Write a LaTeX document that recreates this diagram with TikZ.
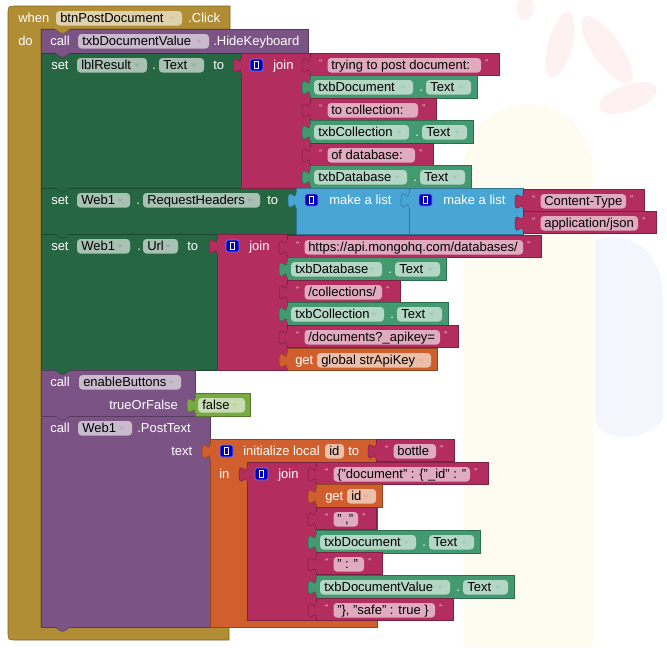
\documentclass[tikz,border=0pt]{standalone}
\usepackage{fontspec}
\setmainfont{Liberation Sans}
\definecolor{gold}{HTML}{B18E35}
\definecolor{purp}{HTML}{7C5385}
\definecolor{dkg}{HTML}{266643}
\definecolor{getg}{HTML}{439970}
\definecolor{pink}{HTML}{B32D5E}
\definecolor{lblue}{HTML}{49A6D4}
\definecolor{orng}{HTML}{D05F2D}
\definecolor{logg}{HTML}{77AB41}
\definecolor{mutb}{HTML}{0000C0}
\definecolor{mute}{HTML}{8080F0}
\definecolor{wmy}{RGB}{254,252,241}
\definecolor{wmp}{RGB}{253,241,241}
\definecolor{wmb}{RGB}{243,246,253}
\newcounter{nn}
\tikzset{
  lbl/.style={text=white, inner sep=0pt, anchor=base west},
  ftx/.style={text=black, inner sep=0pt, anchor=base west},
  qt/.style={text=white, inner sep=0pt, anchor=base west, font=\fontsize{6}{6}\selectfont},
  fieldbg/.style={white, fill opacity=0.6, rounded corners=2.6pt}
}
% value block with left puzzle tab: color, x1, y1, x2, y2
\newcommand\vb[5]{%
 \fill[#1, draw=#1!70!black, line width=0.4pt] (#2,#3) rectangle (#4,#5);
 \fill[#1, draw=#1!70!black, line width=0.4pt] (#2,#3+5) .. controls (#2,#3+15) and (#2-8,#3-3) .. (#2-8,#3+12.5) .. controls (#2-8,#3+28) and (#2,#3+10) .. (#2,#3+20);
 \fill[#1] (#2-0.4,#3+5.4) rectangle (#2+0.8,#3+19.6);}
% statement block
\newcommand\stb[5]{\fill[#1, draw=#1!70!black, line width=0.4pt] (#2,#3) rectangle (#4,#5);}
% statement notch bump: color, x, y
\newcommand\bump[3]{%
 \fill[#1] (#2+14,#3-0.6) -- (#2+14,#3) -- (#2+20,#3+4) -- (#2+23,#3+4) -- (#2+29,#3) -- (#2+29,#3-0.6) -- cycle;
 \draw[#1!70!black, line width=0.4pt] (#2+14,#3) -- (#2+20,#3+4) -- (#2+23,#3+4) -- (#2+29,#3);}
% white label: x, row top, text
\newcommand\lb[3]{\stepcounter{nn}\node[lbl] (l\arabic{nn}) at (#1,#2+16) {#3};}
% dropdown field: color, x1, x2, row top, text
\newcommand\fd[5]{%
 \fill[fieldbg] (#2,#4+5) rectangle (#3,#4+19.5);
 \stepcounter{nn}\node[ftx] (f\arabic{nn}) at (#2+4,#4+16) {#5};
 \fill[#1!50!white] (#3-13,#4+10.5) -- (#3-7,#4+10.5) -- (#3-10,#4+14) -- cycle;}
% plain text field: x1, x2, row top, text
\newcommand\tf[4]{%
 \fill[fieldbg] (#1,#3+5) rectangle (#2,#3+19.5);
 \stepcounter{nn}\node[ftx] (t\arabic{nn}) at (#1+4,#3+16) {#4};}
% text literal: x1, top, field x2, text
\newcommand\lit[4]{%
 \vb{pink}{#1}{#2}{#3+18}{#2+22.5}
 \stepcounter{nn}\node[qt] (q\arabic{nn}) at (#1+9,#2+12.5) {“};
 \fill[fieldbg] (#1+17.5,#2+5) rectangle (#3,#2+19.5);
 \stepcounter{nn}\node[ftx] (t\arabic{nn}) at (#1+21,#2+16) {#4};
 \stepcounter{nn}\node[qt] (q\arabic{nn}) at (#3+4,#2+12.5) {”};}
% component getter: x1, top, name, field1 x2
\newcommand\gtr[4]{%
 \vb{getg}{#1}{#2}{#4+64}{#2+23}
 \fd{getg}{#1+4}{#4}{#2}{#3}
 \lb{#4+6}{#2}{.}
 \fd{getg}{#4+13}{#4+58}{#2}{Text}}
% mutator icon: x, row top
\newcommand\mut[2]{%
 \fill[mutb, draw=mute, line width=0.5pt, rounded corners=1.5pt] (#1,#2+6) rectangle (#1+13,#2+18);
 \draw[white, line width=0.5pt] (#1+4.5,#2+8.5) rectangle (#1+8.5,#2+15.5);}

\begin{document}
\begin{tikzpicture}[x=0.75pt,y=-0.75pt,font=\fontsize{9.75}{11.7}\selectfont]
\useasboundingbox (0,0) rectangle (667,647);
\fill[white] (0,0) rectangle (667,647);
% faint watermark
\fill[wmy] (463,647) -- (463,175) .. controls (463,80) and (593,80) .. (593,175) -- (593,647) -- cycle;
\fill[wmp, rotate around={-15:(560,45)}] (560,45) ellipse (12 and 34);
\fill[wmp, rotate around={35:(607,50)}] (607,50) ellipse (14 and 40);
\fill[wmp, rotate around={20:(628,98)}] (628,98) ellipse (30 and 13);
\fill[wmp] (525,8) ellipse (9 and 12);
\fill[wmb] (595,240) .. controls (640,228) and (663,260) .. (663,300) -- (663,420) .. controls (640,445) and (600,440) .. (595,420) -- cycle;

% event block
\fill[gold, draw=gold!70!black, line width=0.4pt] (16,6) -- (230,6) -- (230,29) -- (41,29) -- (41,627) -- (229,627) -- (229,640) -- (16,640) .. controls (8,640) .. (8,632) -- (8,14) .. controls (8,6) .. (16,6) -- cycle;

% statement blocks
\stb{purp}{41}{29}{308}{53}
\stb{dkg}{41}{53}{241}{188}
\stb{dkg}{41}{188}{296}{234}
\stb{dkg}{41}{234}{217}{370}
\stb{purp}{41}{370}{195}{416}
\stb{purp}{41}{416}{210}{627}
\bump{gold}{41}{29}
\bump{purp}{41}{53}
\bump{dkg}{41}{188}
\bump{dkg}{41}{234}
\bump{dkg}{41}{370}
\bump{purp}{41}{416}
\bump{purp}{41}{627}

% header
\lb{18}{6}{when}
\fd{gold}{56}{182}{6}{btnPostDocument}
\lb{188}{6}{.Click}
\lb{18}{29}{do}

% HideKeyboard
\lb{50}{29}{call}
\fd{purp}{78}{209}{29}{txbDocumentValue}
\lb{213}{29}{.HideKeyboard}

% set lblResult.Text
\lb{51}{53}{set}
\fd{dkg}{77}{147}{53}{lblResult}
\lb{152}{53}{.}
\fd{dkg}{159}{204}{53}{Text}
\lb{213}{53}{to}
\vb{pink}{241}{53}{310}{188}
\mut{250}{53}
\lb{273}{53}{join}
\lit{310}{53}{481}{trying to post document: }
\gtr{310}{75}{txbDocument}{413}
\lit{310}{98}{418}{ to collection: }
\gtr{310}{120}{txbCollection}{409}
\lit{310}{143}{415}{ of database: }
\gtr{310}{165}{txbDatabase}{407}

% set Web1.RequestHeaders
\lb{51}{188}{set}
\fd{dkg}{77}{130}{188}{Web1}
\lb{136}{188}{.}
\fd{dkg}{143}{260}{188}{RequestHeaders}
\lb{267}{188}{to}
\vb{lblue}{296}{188}{409}{234}
\mut{305}{188}
\lb{329}{188}{make a list}
\vb{lblue}{409}{188}{523}{234}
\mut{419}{188}
\lb{443}{188}{make a list}
\lit{523}{189}{626}{Content-Type}
\lit{523}{211}{638}{application/json}

% set Web1.Url
\lb{51}{234}{set}
\fd{dkg}{77}{130}{234}{Web1}
\lb{137}{234}{.}
\fd{dkg}{143}{178}{234}{Url}
\lb{187}{234}{to}
\vb{pink}{217}{234}{287}{370}
\mut{226}{234}
\lb{249}{234}{join}
\lit{287}{235}{523}{https://api.mongohq.com/databases/}
\gtr{287}{257}{txbDatabase}{382}
\lit{287}{280}{382}{/collections/}
\gtr{287}{302}{txbCollection}{384}
\lit{287}{325}{440}{/documents?\_apikey=}
\vb{orng}{287}{348}{437}{370}
\lb{295}{348}{get}
\fd{orng}{317}{431}{348}{global strApiKey}

% call enableButtons
\lb{50}{370}{call}
\fd{purp}{79}{181}{370}{enableButtons}
\lb{109}{393}{trueOrFalse}
\vb{logg}{195}{393}{250}{416}
\fd{logg}{198}{245}{393}{false}

% call Web1.PostText
\lb{50}{416}{call}
\fd{purp}{78}{132}{416}{Web1}
\lb{137}{416}{.PostText}
\lb{171}{439}{text}
\vb{orng}{210}{439}{377}{627}
\mut{220}{439}
\lb{243}{439}{initialize local}
\tf{325}{344}{439}{id}
\lb{348}{439}{to}
\lit{376}{439}{436}{bottle}
\lb{219}{462}{in}
\vb{pink}{247}{462}{316}{620}
\mut{255}{462}
\lb{278}{462}{join}
\lit{316}{462}{470}{\{"document" : \{"\_id" : "}
\vb{orng}{316}{484}{382}{507}
\lb{325}{484}{get}
\fd{orng}{347}{376}{484}{id}
\lit{316}{507}{358}{" ,"}
\gtr{316}{530}{txbDocument}{416}
\lit{316}{552}{364}{" : "}
\gtr{316}{575}{txbDocumentValue}{450}
\lit{316}{598}{435}{"\}, "safe" : true \}}
\end{tikzpicture}
\end{document}
